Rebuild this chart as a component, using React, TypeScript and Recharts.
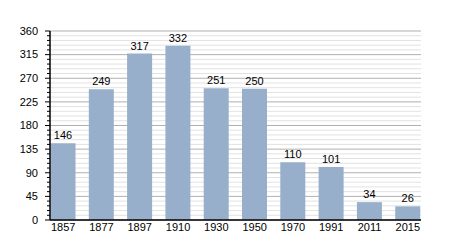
import { BarChart, Bar, XAxis, YAxis, CartesianGrid, LabelList } from 'recharts';

const years = ['1857', '1877', '1897', '1910', '1930', '1950', '1970', '1991', '2011', '2015'];
const population = [146, 249, 317, 332, 251, 250, 110, 101, 34, 26];
const yTicks = [0, 9, 18, 27, 36, 45, 54, 63, 72, 81, 90, 99, 108, 117, 126, 135, 144, 153, 162, 171, 180,
  189, 198, 207, 216, 225, 234, 243, 252, 261, 270, 279, 288, 297, 306, 315, 324, 333, 342, 351, 360];

const data = years.map((year, i) => ({ year, value: population[i] }));

const FONT = '"Liberation Sans", Arial, sans-serif';

function YTick(props: any) {
  const { x, y, payload } = props;
  const major = payload.value % 45 === 0;
  return (
    <g>
      <line x1={x - (major ? 5 : 3)} x2={x} y1={y} y2={y} stroke="#000" strokeWidth={1} />
      {major && (
        <text x={x - 12} y={y} dy="0.35em" textAnchor="end" fontSize={11} fill="#000" fontFamily={FONT}>
          {payload.value}
        </text>
      )}
    </g>
  );
}

function GridLine(props: any) {
  const { x1, x2, y1, y2, index } = props;
  const major = index % 5 === 0;
  return (
    <line
      key={`g-${index}`}
      x1={x1}
      x2={x2}
      y1={y1}
      y2={y2}
      stroke={major ? '#b0b0b0' : '#e2e2e2'}
      strokeWidth={1}
    />
  );
}

export default function App() {
  return (
    <div style={{ position: 'absolute', left: 0, top: 0, width: 450, height: 250, background: '#fff' }}>
      <BarChart
        width={450}
        height={250}
        data={data}
        margin={{ top: 31, right: 29, left: 0, bottom: 7 }}
        barCategoryGap="17%"
      >
        <CartesianGrid vertical={false} horizontal={GridLine} />
        <XAxis
          dataKey="year"
          padding={{ left: -6, right: -6 }}
          tickLine={false}
          tickSize={0}
          tickMargin={3}
          axisLine={{ stroke: '#000', strokeWidth: 1.5 }}
          tick={{ fontSize: 11, fill: '#000', fontFamily: FONT }}
          height={23}
        />
        <YAxis
          domain={[0, 360]}
          ticks={yTicks}
          interval={0}
          tickLine={false}
          tickSize={0}
          tickMargin={0}
          axisLine={{ stroke: '#000', strokeWidth: 1.5 }}
          tick={<YTick />}
          width={50}
        />
        <Bar dataKey="value" fill="#97afca" isAnimationActive={false}>
          <LabelList dataKey="value" position="top" offset={4} fontSize={11} fill="#000" fontFamily={FONT} />
        </Bar>
      </BarChart>
    </div>
  );
}
